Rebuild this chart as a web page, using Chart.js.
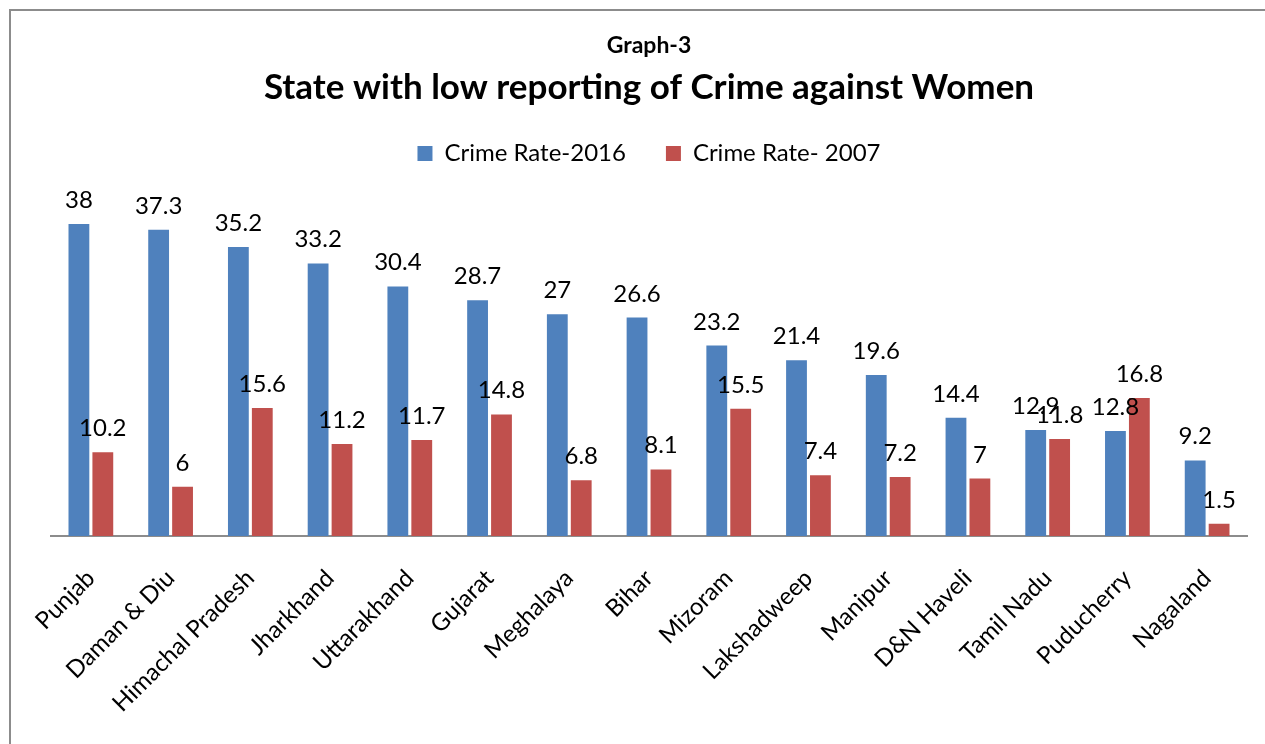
<!DOCTYPE html>
<html lang="en">
<head>
    <meta charset="UTF-8">
    <title>State with low reporting of Crime against Women</title>
    <script src="https://cdn.jsdelivr.net/npm/chart.js"></script>
    <style>
        body { margin: 0; background: #fff; }
        #wrap { position: absolute; left: 0; top: 0; width: 1265px; height: 744px; }
        #frame { position: absolute; left: 9px; top: 9px; width: 1300px; height: 800px;
                 border-left: 2px solid #8c8c8c; border-top: 2px solid #8c8c8c; pointer-events: none; }
    </style>
</head>
<body>
    <div id="wrap">
        <canvas id="crimeChart" width="1265" height="744"></canvas>
        <div id="frame"></div>
    </div>
    <script>
const states = ['Punjab', 'Daman & Diu', 'Himachal Pradesh', 'Jharkhand', 'Uttarakhand', 'Gujarat', 'Meghalaya',
  'Bihar', 'Mizoram', 'Lakshadweep', 'Manipur', 'D&N Haveli', 'Tamil Nadu', 'Puducherry', 'Nagaland'];
const rate2016 = [38, 37.3, 35.2, 33.2, 30.4, 28.7, 27, 26.6, 23.2, 21.4, 19.6, 14.4, 12.9, 12.8, 9.2];
const rate2007 = [10.2, 6, 15.6, 11.2, 11.7, 14.8, 6.8, 8.1, 15.5, 7.4, 7.2, 7, 11.8, 16.8, 1.5];

const FONT = 'Lato, "Open Sans", sans-serif';

// value labels above every bar
const barLabels = {
  id: 'barLabels',
  afterDatasetsDraw(chart) {
    const ctx = chart.ctx;
    ctx.save();
    ctx.font = '24px ' + FONT;
    ctx.fillStyle = '#000';
    ctx.textAlign = 'center';
    ctx.textBaseline = 'alphabetic';
    chart.data.datasets.forEach((ds, i) => {
      chart.getDatasetMeta(i).data.forEach((bar, j) => {
        ctx.fillText(String(ds.data[j]), bar.x, bar.y - 16);
      });
    });
    ctx.restore();
  }
};

// extra room between the legend and the bars
const legendGap = {
  id: 'legendGap',
  beforeInit(chart) {
    const fit = chart.legend.fit;
    chart.legend.fit = function () {
      fit.bind(chart.legend)();
      this.height += 32;
    };
  }
};

new Chart(document.getElementById('crimeChart'), {
  type: 'bar',
  data: {
    labels: states,
    datasets: [
      { label: 'Crime Rate-2016', data: rate2016, backgroundColor: '#4F81BD' },
      { label: 'Crime Rate- 2007', data: rate2007, backgroundColor: '#C0504D' }
    ]
  },
  options: {
    responsive: false,
    animation: false,
    layout: { padding: { left: 51, right: 18, top: 32, bottom: 0 } },
    datasets: { bar: { categoryPercentage: 0.6, barPercentage: 0.87 } },
    scales: {
      x: {
        grid: { display: false, drawTicks: false },
        border: { display: true, color: '#8c8c8c', width: 2 },
        ticks: { color: '#000', font: { family: FONT, size: 24 }, minRotation: 45, maxRotation: 45, padding: 28 },
        afterFit(scale) { scale.height = 208; }
      },
      y: {
        display: false,
        min: 0,
        max: 40
      }
    },
    plugins: {
      title: {
        display: true,
        text: 'Graph-3',
        color: '#000',
        font: { family: FONT, size: 23, weight: 'bold' },
        padding: { top: 0, bottom: 7 }
      },
      subtitle: {
        display: true,
        text: 'State with low reporting of Crime against Women',
        color: '#000',
        font: { family: FONT, size: 35, weight: 'bold' },
        padding: { top: 0, bottom: -7 }
      },
      legend: {
        position: 'top',
        labels: {
          color: '#000',
          font: { family: FONT, size: 24 },
          boxWidth: 15,
          boxHeight: 15,
          padding: 40
        }
      },
      tooltip: { enabled: false }
    }
  },
  plugins: [barLabels, legendGap]
});
    </script>
</body>
</html>
